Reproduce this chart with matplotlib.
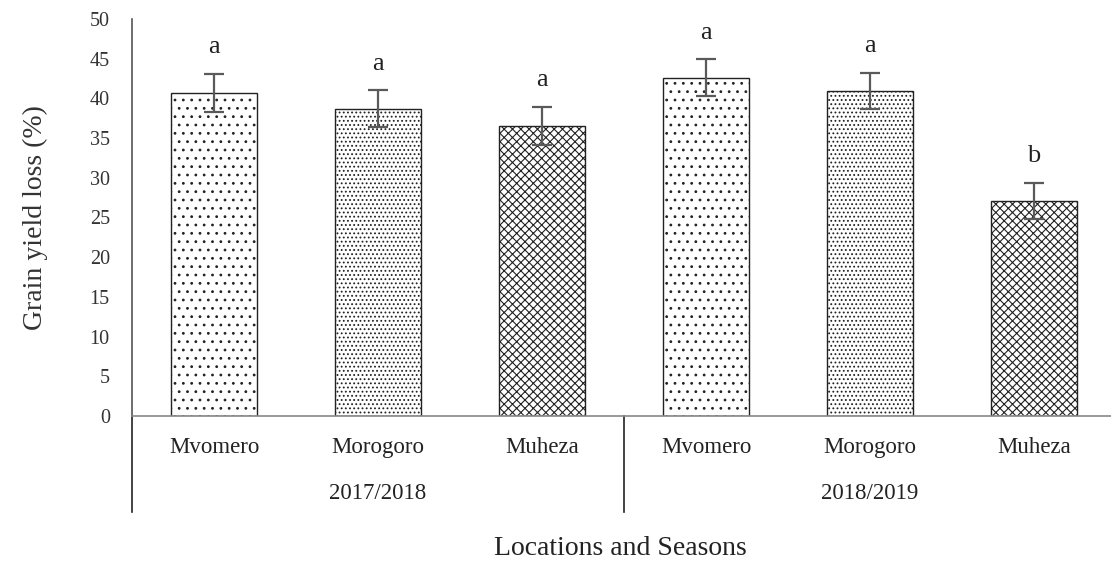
import matplotlib.pyplot as plt
import matplotlib.transforms as mtransforms
import numpy as np

plt.rcParams['font.family'] = ['Liberation Serif', 'DejaVu Serif']
plt.rcParams['hatch.linewidth'] = 0.8

locations = ["Mvomero", "Morogoro", "Muheza", "Mvomero", "Morogoro", "Muheza"]
seasons = ["2017/2018", "2018/2019"]
yield_loss = [40.7, 38.7, 36.5, 42.6, 40.9, 27.1]
errors = [2.4, 2.3, 2.4, 2.3, 2.3, 2.3]
letters = ["a", "a", "a", "a", "a", "b"]
hatches = ["..", "....", "xxxx", "..", "....", "xxxx"]

fig = plt.figure(figsize=(11.11, 5.68), dpi=100)
ax = fig.add_axes([0.1188, 0.2676, 0.8857, 0.699])

x = np.arange(len(locations))
for i in range(len(x)):
    ax.bar(x[i], yield_loss[i], 0.52, color='white', edgecolor='#222222',
           hatch=hatches[i], linewidth=1.0, zorder=2)
ax.errorbar(x, yield_loss, yerr=errors, fmt='none', ecolor='#5a5a5a',
            elinewidth=1.6, capsize=7, capthick=1.6, zorder=3)
for i in range(len(x)):
    ax.text(x[i], yield_loss[i] + errors[i] + 2.0, letters[i], ha='center',
            va='bottom', fontsize=19, color='#222222')

ax.set_xlim(-0.5, 5.5)
ax.set_ylim(0, 50)
ax.set_yticks(np.arange(0, 51, 5))
ax.tick_params(axis='y', length=0, labelsize=14.5, pad=16, colors='#333333')
ax.set_xticks([])
for s in ['top', 'right']:
    ax.spines[s].set_visible(False)
ax.spines['left'].set_color('#555555')
ax.spines['bottom'].set_color('#888888')
ax.spines['left'].set_linewidth(1.2)
ax.spines['bottom'].set_linewidth(1.2)
ax.set_ylabel("Grain yield loss (%)", fontsize=20, color='#333333', labelpad=30)

trans = mtransforms.blended_transform_factory(ax.transData, ax.transAxes)
for i in range(len(x)):
    ax.text(x[i], -0.08, locations[i], transform=trans, ha='center',
            va='center', fontsize=16.5, color='#222222')
for j, season in enumerate(seasons):
    ax.text(j * 3 + 1, -0.196, season, transform=trans, ha='center',
            va='center', fontsize=16.5, color='#222222')
for sx in [-0.5, 2.5]:
    ax.plot([sx, sx], [0, -0.242], transform=trans, color='#222222',
            linewidth=1.2, clip_on=False)

fig.text(0.558, 0.012, "Locations and Seasons", ha='center', va='bottom',
         fontsize=20, color='#222222')

fig.savefig("out.png", dpi=100)
